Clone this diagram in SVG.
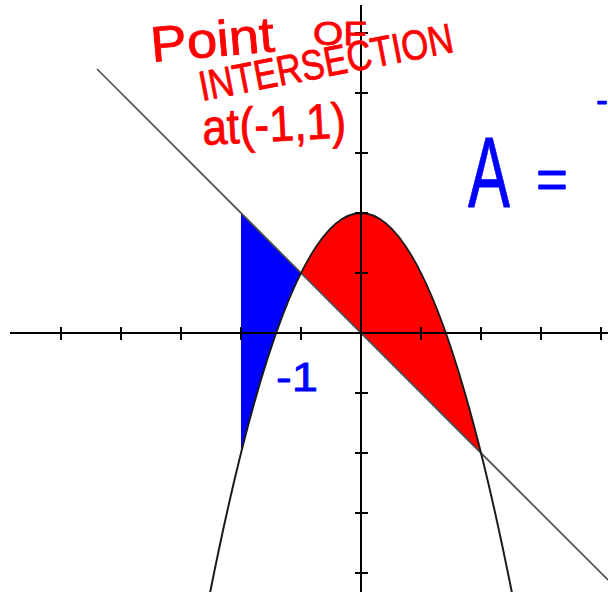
<svg xmlns="http://www.w3.org/2000/svg" width="608" height="592" viewBox="0 0 608 592">
<style>
.axis{stroke:#000;stroke-width:2;fill:none}
.tick{stroke:#000;stroke-width:2}
.curve{stroke:#1a1a1a;stroke-width:2;fill:none}
.line{stroke:#4a4a4a;stroke-width:1.6;fill:none}
.red{fill:#ff0000;stroke:#ff0000;stroke-width:0.8;font-family:"Liberation Sans",Arial,sans-serif;stroke-linejoin:round}
.blue{fill:#0000ff;stroke:#0000ff;stroke-width:0.8;font-family:"Liberation Sans",Arial,sans-serif;stroke-linejoin:round}
</style>
<rect width="608" height="592" fill="#fff"/>
<g id="regions">
<path id="red-region" d="M301,273 Q391,93 481,453 Z" fill="#ff0000"/>
<path id="blue-region" d="M241,213 L301,273 Q271,333 241,453 Z" fill="#0000ff"/>
</g>
<g id="connectors">
<path id="line" class="line" d="M97,69 L608,580"/>
<path id="parabola" class="curve" d="M208,603.15 Q361,-177.15 514,603.15"/>
</g>
<g id="axes">
<path class="axis" d="M10,333 H608 M361,5 V592"/>
<path class="tick" d="M61,327 V340 M121,327 V340 M181,327 V340 M241,327 V340 M301,327 V340 M421,327 V340 M481,327 V340 M541,327 V340 M601,327 V340"/>
<path class="tick" d="M355,33 H368 M355,93 H368 M355,153 H368 M355,213 H368 M355,273 H368 M355,393 H368 M355,453 H368 M355,513 H368 M355,573 H368"/>
</g>
<g id="annotation-red">
<text class="red" x="152" y="62" font-size="50" textLength="124" lengthAdjust="spacingAndGlyphs" transform="rotate(-5 152 62)">Point</text>
<text class="red" x="313" y="45" font-size="34" textLength="54" lengthAdjust="spacingAndGlyphs">OF</text>
<text class="red" x="202" y="101" font-size="42" textLength="258" lengthAdjust="spacingAndGlyphs" transform="rotate(-11 202 101)">INTERSECTION</text>
<text class="red" x="203" y="145" font-size="50" textLength="144" lengthAdjust="spacingAndGlyphs" transform="rotate(-3 203 145)">at(-1,1)</text>
</g>
<g id="annotation-blue">
<text class="blue" x="468" y="207" font-size="100" textLength="42" lengthAdjust="spacingAndGlyphs">A</text>
<text class="blue" x="536" y="198" font-size="56" textLength="32" lengthAdjust="spacingAndGlyphs">=</text>
<text class="blue" x="596" y="112" font-size="36">-</text>
<text class="blue" x="276" y="391" font-size="40" textLength="42" lengthAdjust="spacingAndGlyphs">-1</text>
</g>
</svg>
